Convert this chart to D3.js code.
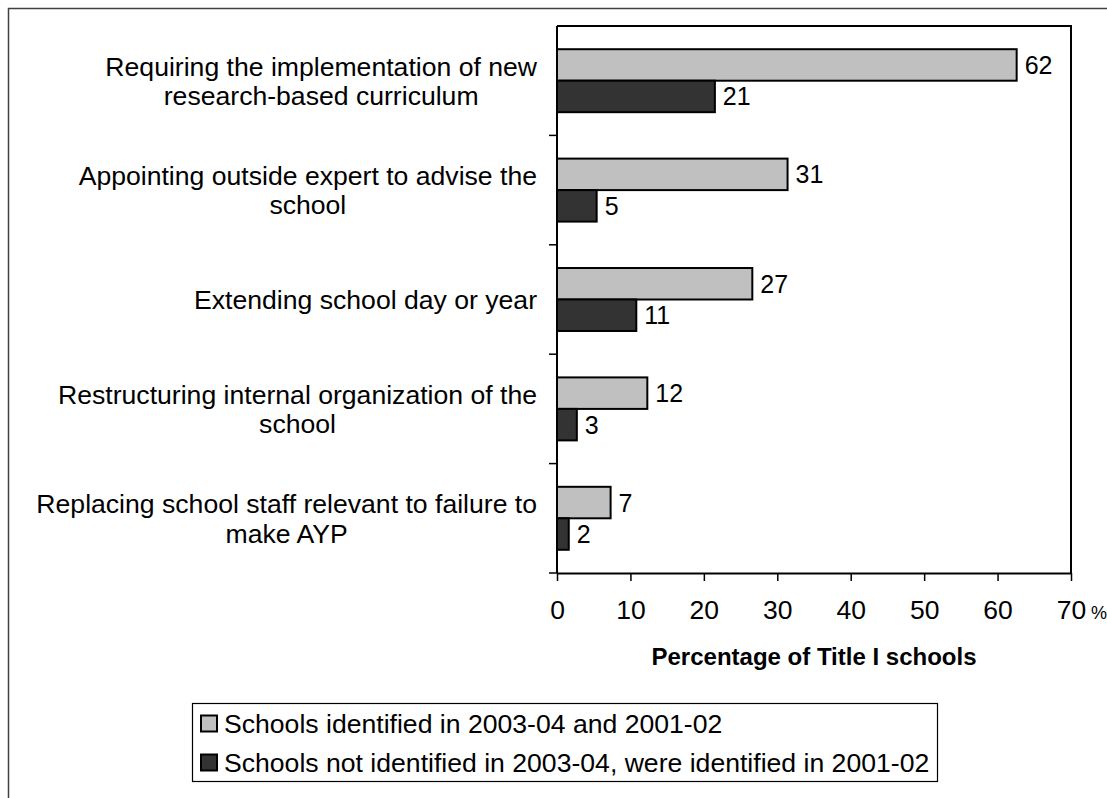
<!DOCTYPE html>
<html><head><meta charset="utf-8">
<script src="https://cdn.jsdelivr.net/npm/d3@7"></script>
<style>
html,body{margin:0;padding:0;background:#fff;}
svg{display:block;font-family:"Liberation Sans",Arial,sans-serif;}
</style></head>
<body>
<svg id="chart" width="1107" height="798"></svg>
<script>
const categories = [
  ["Requiring the implementation of new", "research-based curriculum"],
  ["Appointing outside expert to advise the", "school"],
  ["Extending school day or year"],
  ["Restructuring internal organization of the", "school"],
  ["Replacing school staff relevant to failure to", "make AYP"]
];
const seriesNames = ["Schools identified in 2003-04 and 2001-02",
                     "Schools not identified in 2003-04, were identified in 2001-02"];
const identifiedBoth = [62.6, 31.4, 26.6, 12.3, 7.3];
const identifiedEarlier = [21.5, 5.4, 10.8, 2.7, 1.6];
const labelsBoth = ["62", "31", "27", "12", "7"];
const labelsEarlier = ["21", "5", "11", "3", "2"];
const xTicks = [0, 10, 20, 30, 40, 50, 60, 70];
const colors = ["#c0c0c0", "#333333"];

const svg = d3.select("#chart");
// outer frame
svg.append("rect").attr("x", 8.5).attr("y", 8.5).attr("width", 1120).attr("height", 820)
  .attr("fill", "none").attr("stroke", "#404040").attr("stroke-width", 1.5);

const x = d3.scaleLinear().domain([0, 70]).range([557, 1071]);
const catIdx = d3.range(categories.length);
const y = d3.scaleBand().domain(catIdx).range([26, 573]).paddingInner(0).paddingOuter(0);
const sub = d3.scaleBand().domain([0, 1]).range([0, y.bandwidth()]).paddingInner(0).paddingOuter(0.737);

const series = [identifiedBoth, identifiedEarlier];
const seriesLabels = [labelsBoth, labelsEarlier];

// plot frame top & right
svg.append("path")
  .attr("d", `M${x(0)},${y.range()[0]}H${x(70)}V${y.range()[1]}`)
  .attr("fill", "none").attr("stroke", "#000").attr("stroke-width", 2);

// bars
series.forEach((vals, s) => {
  const g = svg.append("g");
  g.selectAll("rect").data(vals).join("rect")
    .attr("x", x(0))
    .attr("y", (d, i) => y(i) + sub(s))
    .attr("width", d => x(d) - x(0))
    .attr("height", sub.bandwidth())
    .attr("fill", colors[s]).attr("stroke", "#000").attr("stroke-width", 2);
  g.selectAll("text").data(vals).join("text")
    .attr("x", d => x(d) + 8)
    .attr("y", (d, i) => y(i) + sub(s) + sub.bandwidth() / 2)
    .attr("dy", "0.36em")
    .attr("font-size", 25).attr("fill", "#000")
    .text((d, i) => seriesLabels[s][i]);
});

// x axis
const xAxis = d3.axisBottom(x).tickValues(xTicks).tickSize(8).tickPadding(19).tickSizeOuter(0);
const gx = svg.append("g").attr("transform", `translate(0,573)`).call(xAxis);
gx.select(".domain").attr("stroke", "#000").attr("stroke-width", 2);
gx.selectAll(".tick line").attr("stroke", "#000").attr("stroke-width", 1.5);
gx.selectAll(".tick text").attr("font-size", 26.5).attr("fill", "#000")
  .attr("font-family", "Liberation Sans, Arial, sans-serif");
svg.append("text").attr("x", 1091).attr("y", 619).attr("font-size", 18).text("%");

// y axis (ticks at category boundaries)
const boundaries = d3.range(categories.length + 1).map(i => 26 + i * y.step());
svg.append("line").attr("x1", x(0)).attr("x2", x(0)).attr("y1", 26).attr("y2", 573)
  .attr("stroke", "#000").attr("stroke-width", 2);
svg.append("g").selectAll("line").data(boundaries.slice(1)).join("line")
  .attr("x1", x(0) - 8).attr("x2", x(0)).attr("y1", d => d).attr("y2", d => d)
  .attr("stroke", "#000").attr("stroke-width", 1.5);

// category labels: block right-aligned, lines centered
const lineH = 29.5;
const fs = 26.6;
categories.forEach((lines, i) => {
  const cy = y(i) + y.bandwidth() / 2;
  const t = svg.append("text").attr("font-size", fs).attr("fill", "#000").attr("text-anchor", "middle");
  const tmp = svg.append("g");
  const widths = lines.map(l => {
    const tt = tmp.append("text").attr("font-size", fs).text(l);
    return tt.node().getComputedTextLength();
  });
  tmp.remove();
  const maxW = d3.max(widths);
  const right = 537;
  const centerX = right - maxW / 2;
  lines.forEach((l, k) => {
    t.append("tspan").attr("x", centerX)
      .attr("y", cy + (k - (lines.length - 1) / 2) * lineH)
      .attr("dy", "0.36em").text(l);
  });
});

// axis title
svg.append("text").attr("x", (x(0) + x(70)) / 2).attr("y", 665)
  .attr("text-anchor", "middle").attr("font-size", 24).attr("font-weight", "bold")
  .text("Percentage of Title I schools");

// legend
const lg = svg.append("g");
lg.append("rect").attr("x", 192.5).attr("y", 703.5).attr("width", 745).attr("height", 78)
  .attr("fill", "#fff").attr("stroke", "#000").attr("stroke-width", 1.2);
seriesNames.forEach((name, s) => {
  const cy = 723.5 + s * 39;
  lg.append("rect").attr("x", 201).attr("y", cy - 8).attr("width", 16).attr("height", 16)
    .attr("fill", colors[s]).attr("stroke", "#000").attr("stroke-width", 2);
  lg.append("text").attr("x", 224).attr("y", cy).attr("dy", "0.36em")
    .attr("font-size", 26.6).text(name);
});
</script>
</body></html>
